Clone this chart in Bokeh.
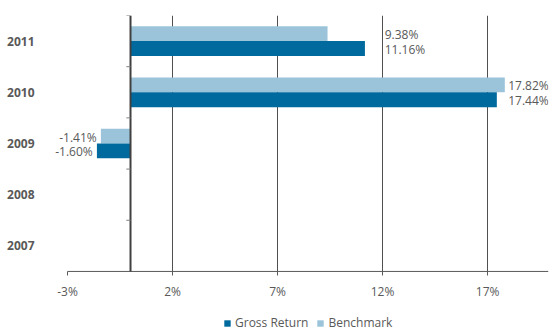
from bokeh.plotting import figure
from bokeh.layouts import column
from bokeh.models import (ColumnDataSource, FixedTicker, PrintfTickFormatter,
                          Legend, LegendItem, Range1d, LabelSet)
from bokeh.core.properties import value
from bokeh.embed import file_html
from bokeh.resources import INLINE
import math

# ---- data ----
years = ["2007", "2008", "2009", "2010", "2011"]
gross_return = [math.nan, math.nan, -1.60, 17.44, 11.16]
benchmark = [math.nan, math.nan, -1.41, 17.82, 9.38]
gross_labels = ["", "", "-1.60%", "17.44%", "11.16%"]
bench_labels = ["", "", "-1.41%", "17.82%", "9.38%"]
series_names = ["Gross Return", "Benchmark"]
x_ticks = [-3, 2, 7, 12, 17]
x_min, x_max = -3, 19.9
# label anchors (in % units)
gross_label_x = [0, 0, -1.80, 17.98, 12.10]
bench_label_x = [0, 0, -1.61, 17.98, 12.10]

DARK = "#006a9e"
LIGHT = "#9bc4da"
TXT = "#595959"
FONT = "Open Sans"

ypos = [i + 0.5 for i in range(len(years))]
src = ColumnDataSource(dict(y=ypos,
                            gross=[0 if math.isnan(v) else v for v in gross_return],
                            bench=[0 if math.isnan(v) else v for v in benchmark],
                            gl=gross_labels, bl=bench_labels,
                            gx=gross_label_x, bx=bench_label_x,
                            yb=[y + 0.145 for y in ypos],
                            yg=[y - 0.145 for y in ypos]))
src.data["align"] = ["right" if (not math.isnan(v) and v < 0) else "left" for v in gross_return]

# frame extends left of the -3% axis start so the negative labels are not clipped
PX_PER_UNIT = 21.0
extra_left = 27 / PX_PER_UNIT
p = figure(width=552, height=315, output_backend="svg", toolbar_location=None,
           x_range=Range1d(x_min - extra_left, x_max), y_range=Range1d(-0.04, len(years)),
           min_border_left=40, min_border_right=4, min_border_top=15,
           min_border_bottom=42)
p.outline_line_color = None
p.background_fill_color = "white"
p.ygrid.visible = False

# x axis (line drawn separately, starting at -3%)
p.xaxis.ticker = FixedTicker(ticks=x_ticks)
p.xaxis.formatter = PrintfTickFormatter(format="%d%%")
p.xaxis.axis_line_color = None
p.xaxis.major_tick_line_color = TXT
p.xaxis.major_tick_out = 2
p.xaxis.major_tick_in = 2
p.xaxis.minor_tick_line_color = None
p.xaxis.major_label_standoff = 7
p.xaxis.major_label_text_font = FONT
p.xaxis.major_label_text_font_size = "12px"
p.xaxis.major_label_text_color = TXT
p.segment(x0=[x_min], x1=[x_max], y0=[0], y1=[0], line_color=TXT, line_width=1)

p.xgrid.ticker = FixedTicker(ticks=[t for t in x_ticks if t > x_ticks[0]])
p.xgrid.grid_line_color = "#505050"
p.xgrid.grid_line_width = 1

# y axis (category labels)
p.yaxis.ticker = FixedTicker(ticks=ypos)
p.yaxis.major_label_overrides = {y: yr for y, yr in zip(ypos, years)}
p.yaxis.axis_line_color = None
p.yaxis.major_tick_line_color = None
p.yaxis.minor_tick_line_color = None
p.yaxis.major_label_standoff = 0
p.yaxis.major_label_text_font = FONT
p.yaxis.major_label_text_font_size = "12px"
p.yaxis.major_label_text_font_style = "bold"
p.yaxis.major_label_text_color = TXT

# bars
rb = p.hbar(y="yb", right="bench", left=0, height=0.29,
            source=src, fill_color=LIGHT, line_color=None)
rg = p.hbar(y="yg", right="gross", left=0, height=0.29,
            source=src, fill_color=DARK, line_color=None)

# zero axis line with category-boundary ticks
p.segment(x0=[0], x1=[0], y0=[0], y1=[len(years)], line_color="#404040", line_width=2)
bounds = list(range(1, len(years) + 1))
p.segment(x0=[-0.2] * len(bounds), x1=[0] * len(bounds), y0=bounds, y1=bounds,
          line_color="#808080", line_width=1)

# value labels
for xcol, ycol, tcol in (("bx", "yb", "bl"), ("gx", "yg", "gl")):
    for align in ("left", "right"):
        idx = [i for i, a in enumerate(src.data["align"]) if a == align]
        sub = ColumnDataSource({k: [src.data[k][i] for i in idx] for k in (xcol, ycol, tcol)})
        p.add_layout(LabelSet(x=xcol, y=ycol, text=tcol, source=sub,
                              text_align=value(align), text_baseline=value("middle"),
                              text_font=value(FONT), text_font_size=value("12px"),
                              text_color=value(TXT), y_offset=-1))

# legend strip below the chart (dummy bars lie outside its visible range)
lf = figure(width=552, height=16, output_backend="svg", toolbar_location=None,
            x_range=Range1d(0, 1), y_range=Range1d(0, 1),
            x_axis_location=None, y_axis_location=None,
            min_border=0)
lf.outline_line_color = None
lf.grid.visible = False
lg_g = lf.hbar(y=[-5], right=[-5], height=1, fill_color=DARK, line_color=None)
lg_b = lf.hbar(y=[-5], right=[-5], height=1, fill_color=LIGHT, line_color=None)
legend = Legend(items=[LegendItem(label=series_names[0], renderers=[lg_g]),
                       LegendItem(label=series_names[1], renderers=[lg_b])],
                orientation="horizontal", location=(183, 0),
                border_line_color=None, background_fill_alpha=0,
                glyph_width=8, glyph_height=8, label_standoff=4, spacing=8,
                padding=0, margin=0,
                label_text_font=FONT, label_text_font_size="12px",
                label_text_color=TXT, label_height=12)
lf.add_layout(legend)

open("out.html", "w").write(file_html(column(p, lf, spacing=0), INLINE))
